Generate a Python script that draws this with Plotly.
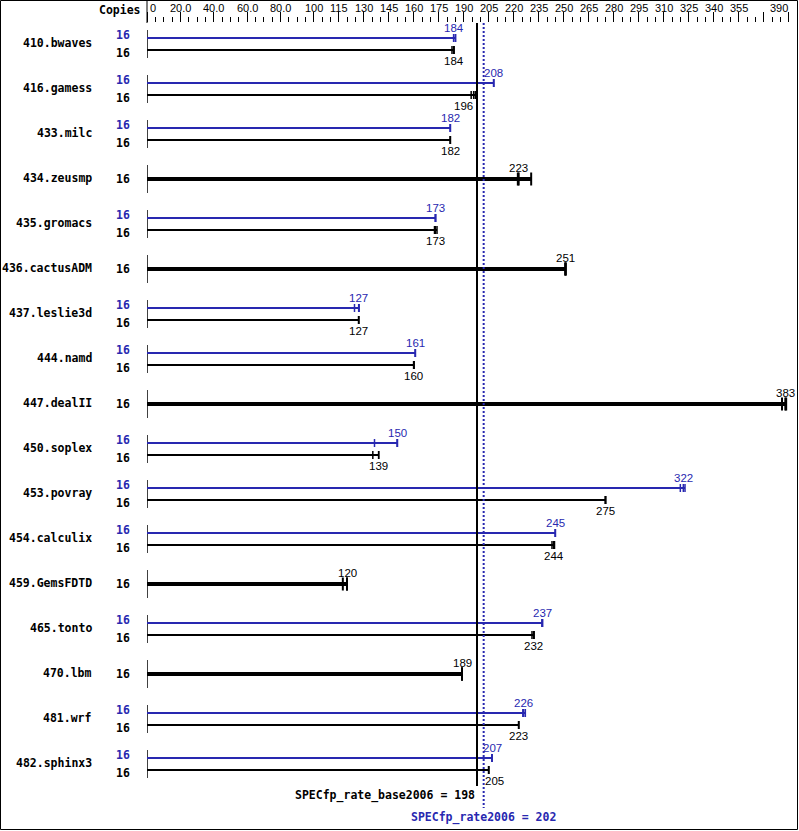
import plotly.graph_objects as go

# ---------------- data ----------------
benchmarks = ["410.bwaves", "416.gamess", "433.milc", "434.zeusmp", "435.gromacs",
              "436.cactusADM", "437.leslie3d", "444.namd", "447.dealII", "450.soplex",
              "453.povray", "454.calculix", "459.GemsFDTD", "465.tonto", "470.lbm",
              "481.wrf", "482.sphinx3"]
copies_base = [16, 16, 16, 16, 16, 16, 16, 16, 16, 16, 16, 16, 16, 16, 16, 16, 16]
copies_peak = [16, 16, 16, None, 16, None, 16, 16, None, 16, 16, 16, None, 16, None, 16, 16]
base_ratio = [184, 196, 182, 223, 173, 251, 127, 160, 383, 139, 275, 244, 120, 232, 189, 223, 205]
peak_ratio = [184, 208, 182, None, 173, None, 127, 161, None, 150, 322, 245, None, 237, None, 226, 207]
base_runs = [
    [183, 184, 184.3], [194.5, 196, 197], [182, 182, 182], [222.5, 223, 230.5],
    [172.5, 173, 174], [251, 251, 251.3], [127, 127, 127], [160, 160, 160.3],
    [381, 383, 383.5], [135.5, 139, 139], [275, 275, 275.3], [243, 244, 244.5],
    [117.5, 120, 120], [231, 232, 232.3], [189, 189, 189], [223, 223, 223],
    [205, 205, 205],
]
peak_runs = [
    [184, 184, 185.2], [208, 208, 208], [182, 182, 182], None,
    [173, 173, 173.3], None, [124.5, 127, 127.3], [161, 161, 161],
    None, [136.5, 150, 150.3], [320, 321.8, 322.8], [245, 245, 245],
    None, [237, 237, 237.4], None, [225.5, 226, 227],
    [207, 207, 207],
]
base_overall = 198
peak_overall = 202
base_metric = "SPECfp_rate_base2006"
peak_metric = "SPECfp_rate2006"
axis_major = [0, 20, 40, 60, 80, 100, 115, 130, 145, 160, 175, 190, 205, 220, 235, 250,
              265, 280, 295, 310, 325, 340, 355, 370, 385]
axis_major_labels = ["0", "20.0", "40.0", "60.0", "80.0", "100", "115", "130", "145", "160",
                     "175", "190", "205", "220", "235", "250", "265", "280", "295", "310",
                     "325", "340", "355", "", ""]
axis_max = 390

# ---------------- style / layout ----------------
BLUE = "#2828b0"
BLACK = "#000000"
FIG_W, FIG_H = 799, 831
ML, MR, MT, MB = 147, 2, 23, 0
PW = FIG_W - ML - MR
PH = FIG_H - MT - MB
ROW0, ROW_STEP = 44, 45
MONO = "DejaVu Sans Mono"
SANS = "Liberation Sans"
label_xshift = {(1, "base"): -10, (16, "base"): 6}


def pxx(p):
    return (p - ML) / PW


def pxy(p):
    return (FIG_H - MB - p) / PH


minor_vals = [v for v in range(0, axis_max + 1, 5) if v not in axis_major]

fig = go.Figure()
annotations = []
shapes = []

thin_peak_x, thin_peak_y = [], []
thin_base_x, thin_base_y = [], []
thick_x, thick_y = [], []
tick_peak_x, tick_peak_y = [], []
tick_base_x, tick_base_y = [], []
tick_thick_x, tick_thick_y = [], []
axis_x, axis_y = [], []

for i, name in enumerate(benchmarks):
    c = ROW0 + ROW_STEP * i
    axis_x += [0, 0, None]
    axis_y += [c - 14, c + 14, None]
    annotations.append(dict(x=pxx(94), y=c - 1, xref="paper", yref="y", text=name,
                            showarrow=False, xanchor="right", yanchor="middle",
                            font=dict(family=MONO, size=11.5, color=BLACK, weight="bold")))
    if peak_runs[i] is not None:
        yp, yb = c - 6, c + 6
        thin_peak_x += [0, max(peak_runs[i]), None]
        thin_peak_y += [yp, yp, None]
        for r in peak_runs[i]:
            tick_peak_x += [r, r, None]
            tick_peak_y += [yp - 4, yp + 4, None]
        thin_base_x += [0, max(base_runs[i]), None]
        thin_base_y += [yb, yb, None]
        for r in base_runs[i]:
            tick_base_x += [r, r, None]
            tick_base_y += [yb - 4, yb + 4, None]
        annotations.append(dict(x=peak_ratio[i], y=yp - 10, xref="x", yref="y",
                                text=str(peak_ratio[i]), showarrow=False,
                                xshift=label_xshift.get((i, "peak"), 0),
                                font=dict(family=SANS, size=11.5, color=BLUE)))
        annotations.append(dict(x=base_ratio[i], y=yb + 11, xref="x", yref="y",
                                text=str(base_ratio[i]), showarrow=False,
                                xshift=label_xshift.get((i, "base"), 0),
                                font=dict(family=SANS, size=11.5, color=BLACK)))
        annotations.append(dict(x=pxx(132), y=c - 9, xref="paper", yref="y",
                                text=str(copies_peak[i]), showarrow=False, xanchor="right",
                                font=dict(family=MONO, size=11.5, color=BLUE, weight="bold")))
        annotations.append(dict(x=pxx(132), y=c + 9, xref="paper", yref="y",
                                text=str(copies_base[i]), showarrow=False, xanchor="right",
                                font=dict(family=MONO, size=11.5, color=BLACK, weight="bold")))
    else:
        thick_x += [0, max(base_runs[i]), None]
        thick_y += [c, c, None]
        for r in base_runs[i]:
            tick_thick_x += [r, r, None]
            tick_thick_y += [c - 6.5, c + 6.5, None]
        annotations.append(dict(x=base_ratio[i], y=c - 11, xref="x", yref="y",
                                text=str(base_ratio[i]), showarrow=False,
                                font=dict(family=SANS, size=11.5, color=BLACK)))
        annotations.append(dict(x=pxx(132), y=c, xref="paper", yref="y",
                                text=str(copies_base[i]), showarrow=False, xanchor="right",
                                font=dict(family=MONO, size=11.5, color=BLACK, weight="bold")))


def add_lines(x, y, color, width):
    fig.add_trace(go.Scatter(x=x, y=y, mode="lines", line=dict(color=color, width=width),
                             hoverinfo="skip", showlegend=False, cliponaxis=False))


add_lines(axis_x, axis_y, BLACK, 1.5)
add_lines(thin_peak_x, thin_peak_y, BLUE, 2)
add_lines(thin_base_x, thin_base_y, BLACK, 2)
add_lines(thick_x, thick_y, BLACK, 4)
add_lines(tick_peak_x, tick_peak_y, BLUE, 1.5)
add_lines(tick_base_x, tick_base_y, BLACK, 1.5)
add_lines(tick_thick_x, tick_thick_y, BLACK, 2)

# overall reference lines
shapes.append(dict(type="line", xref="x", yref="y", x0=base_overall, x1=base_overall,
                   y0=MT, y1=786, line=dict(color=BLACK, width=2)))
shapes.append(dict(type="line", xref="x", yref="y", x0=peak_overall, x1=peak_overall,
                   y0=MT, y1=808, line=dict(color=BLUE, width=2, dash="2px,2px")))
annotations.append(dict(x=base_overall, y=795, xref="x", yref="y",
                        text=f"{base_metric} = {base_overall}", showarrow=False,
                        xanchor="right", yanchor="middle",
                        font=dict(family=MONO, size=11.5, color=BLACK, weight="bold")))
annotations.append(dict(x=peak_overall, y=817, xref="x", yref="y",
                        text=f"{peak_metric} = {peak_overall}", showarrow=False,
                        xanchor="center", yanchor="middle",
                        font=dict(family=MONO, size=11.5, color=BLUE, weight="bold")))

# header
annotations.append(dict(x=pxx(143), y=pxy(10), xref="paper", yref="paper", text="Copies",
                        showarrow=False, xanchor="right", yanchor="middle",
                        font=dict(family=MONO, size=11.5, color=BLACK, weight="bold")))
for v, t in zip(axis_major, axis_major_labels):
    if not t:
        continue
    annotations.append(dict(x=v, y=pxy(8), xref="x", yref="paper", text=t, showarrow=False,
                            xanchor="left" if v == 0 else "center", yanchor="middle",
                            xshift=1 if v == 0 else 0,
                            font=dict(family=SANS, size=11, color=BLACK)))
annotations.append(dict(x=axis_max, y=pxy(8), xref="x", yref="paper", text=str(axis_max),
                        showarrow=False, xanchor="right", yanchor="middle", xshift=-7,
                        font=dict(family=SANS, size=11, color=BLACK)))

# frame
shapes.append(dict(type="line", xref="paper", yref="paper", x0=0, x1=0, y0=1, y1=pxy(0),
                   line=dict(color=BLACK, width=1)))
shapes.append(dict(type="rect", xref="paper", yref="paper", x0=pxx(0.5), x1=pxx(797.5),
                   y0=pxy(829.5), y1=pxy(0.5), line=dict(color=BLACK, width=1)))

fig.update_layout(
    width=FIG_W, height=FIG_H,
    margin=dict(l=ML, r=MR, t=MT, b=MB, pad=0),
    plot_bgcolor="white", paper_bgcolor="white",
    showlegend=False,
    annotations=annotations,
    shapes=shapes,
    xaxis=dict(range=[0, axis_max], side="top", showgrid=False, zeroline=False,
               showline=False, ticks="outside", ticklen=10, tickwidth=1, tickcolor=BLACK,
               tickmode="array", tickvals=axis_major, showticklabels=False,
               minor=dict(tickmode="array", tickvals=minor_vals, ticks="outside",
                          ticklen=5, tickwidth=1, tickcolor=BLACK, showgrid=False),
               fixedrange=True),
    yaxis=dict(range=[FIG_H - MB, MT], showgrid=False, zeroline=False, showline=False,
               showticklabels=False, ticks="", fixedrange=True),
)

fig.write_html("out.html", config={"displayModeBar": False},
               post_script="document.body.style.margin='0';document.body.style.overflow='hidden';")
